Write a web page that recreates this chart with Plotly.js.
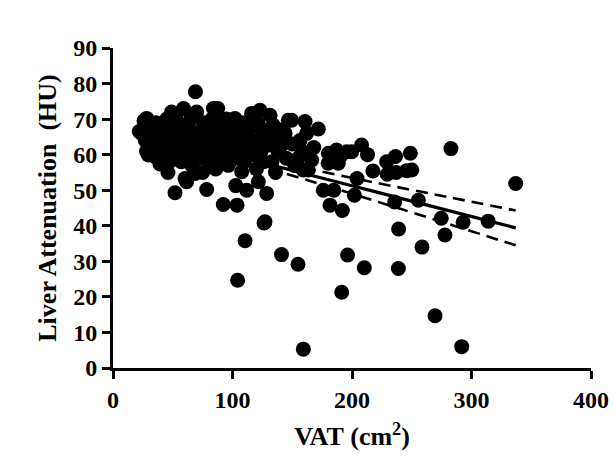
<!DOCTYPE html>
<html>
<head>
<meta charset="utf-8">
<script src="https://cdn.plot.ly/plotly-3.0.1.min.js"></script>
<style>html,body{margin:0;padding:0;background:#fff;}#chart{width:614px;height:474px;}</style>
</head>
<body>
<div id="chart"></div>
<script>
// VAT (cm^2) values of each subject
const vat = [
  22,24,26,27,28,28.2,29.6,30,32,33,35,36,
  38,39.3,40,42,44,45,47,48,49,50,50,46,51.9,
  53,55,56,57,58,59,60.3,62,63,64,65,66,67,68,69,70,68.6,61.6,
  72,73,74,75,76,78,78.4,80,81,83,84,84,85,86,87.6,88,88,89,90,
  91,92,92.3,94,95,96.5,97,98,99,100,101,102,103.8,102.7,104,105,106,107.7,108,109,110,111.9,
  113,114,116,117,118,120,121.6,121.6,122,123,124,125,126,128.6,127.2,128,131.4,131.4,134,133,135,136,138,139,141,144,
  145,146.7,150,152,155,156.5,159.2,160.7,162,163.4,166.3,168,171.8,149.5,158,
  176,181.6,184.8,191.9,187,180.2,188.5,180,184.4,190,195.6,199.7,208,202,204.2,217.5,213,
  229,236.4,248.8,250,229.5,237,245.7,235.7,255.5,239,274.7,277.8,258.6,293,314,282.8,337,
  269.5,291.8,196.3,191.4,210.3,238.8,141,154.8,159.3,104.3,110.5,126.4
];
// Liver attenuation (HU) values of each subject
const liver = [
  66.5,66,69.5,64,61,70.2,59.9,67,66,63,59.5,69,
  68,57.4,64,61,66,70,58,63,72,67,60,55,49.3,
  70,65,62,58,68,73,53.3,64,60,67,70,57,62,65,77.7,72,54.7,52.4,
  59,63,67,55,69,61,50.2,65,58,70,73,63,67,56,73,69.3,60,65,68,
  62,58,46,66,70,57,63,60,68,65,62,70.2,45.8,51.3,59,67,64,55.2,61,69,58,50,
  66,63,71.6,60,68,56,52.4,68.8,64,72.5,61,67,58,49.1,41.1,64,71.1,62.7,68.3,58,65,55,61,67,62.7,66,
  59,69.7,63,57,59,64,55.7,69.3,66,55.7,58.5,62,67.2,69.7,61,
  50,45.8,50,44.3,61.3,60.4,57.6,57.6,59,59.4,60.8,60.8,62.7,48.6,53.3,55.4,60,
  58,59.5,60.4,55.7,54.5,55,55.5,46.7,47.2,39.1,42.1,37.4,34,41,41.3,61.7,51.9,
  14.7,6,31.8,21.3,28.2,28,31.9,29.2,5.3,24.7,35.8,40.8
];
// Linear regression line and 95% confidence band
const fitX = [22, 60, 110, 160, 220, 280, 337];
const fitY = [66.66, 63.37, 59.05, 54.72, 49.53, 44.34, 39.41];
const bandUpper = [68.9, 65.0, 60.25, 56.3, 52.1, 48.1, 44.3];
const bandLower = [64.4, 61.8, 57.85, 53.1, 46.9, 40.6, 34.5];

const xTickVals = [0, 100, 200, 300, 400];
const yTickVals = [0, 10, 20, 30, 40, 50, 60, 70, 80, 90];

const serif = 'Liberation Serif, Times New Roman, serif';
const dashPat = '12px,7px';

function lineTrace(x, y, color, width, dash) {
  return {x: x, y: y, type: 'scatter', mode: 'lines', hoverinfo: 'skip',
          line: {color: color, width: width, dash: dash, shape: 'spline'},
          showlegend: false, cliponaxis: false};
}

const traces = [
  {x: vat, y: liver, type: 'scatter', mode: 'markers', showlegend: false, cliponaxis: false,
   marker: {color: '#000', size: 15, line: {width: 0}}},
  lineTrace(fitX, bandUpper, '#000', 2.6, dashPat),
  lineTrace(fitX, bandLower, '#000', 2.6, dashPat),
  lineTrace(fitX, fitY, '#000', 3.2, 'solid')
];

const tickFont = {family: serif, size: 24, color: '#000', weight: 'bold'};
const layout = {
  width: 614, height: 474,
  margin: {l: 113, r: 23, t: 48, b: 106},
  paper_bgcolor: '#fff', plot_bgcolor: '#fff',
  showlegend: false,
  xaxis: {
    range: [0, 400], tickvals: xTickVals, ticktext: xTickVals.map(String),
    showgrid: false, zeroline: false, showline: true, linecolor: '#000', linewidth: 3,
    ticks: 'outside', ticklen: 8, tickwidth: 3, tickcolor: '#000',
    tickfont: tickFont, automargin: false,
    title: {text: 'VAT\u00a0(cm<sup>2</sup>)', font: {family: serif, size: 26, color: '#000', weight: 'bold'}, standoff: 16}
  },
  yaxis: {
    range: [0, 90], tickvals: yTickVals, ticktext: yTickVals.map(String),
    showgrid: false, zeroline: false, showline: true, linecolor: '#000', linewidth: 3,
    ticks: 'outside', ticklen: 8, tickwidth: 3, tickcolor: '#000',
    tickfont: tickFont, automargin: false,
    title: {text: 'Liver Attenuation\u00a0\u00a0(HU)', font: {family: serif, size: 26, color: '#000', weight: 'bold'}, standoff: 10}
  }
};

Plotly.newPlot('chart', traces, layout, {displayModeBar: false, staticPlot: true});
</script>
</body>
</html>
